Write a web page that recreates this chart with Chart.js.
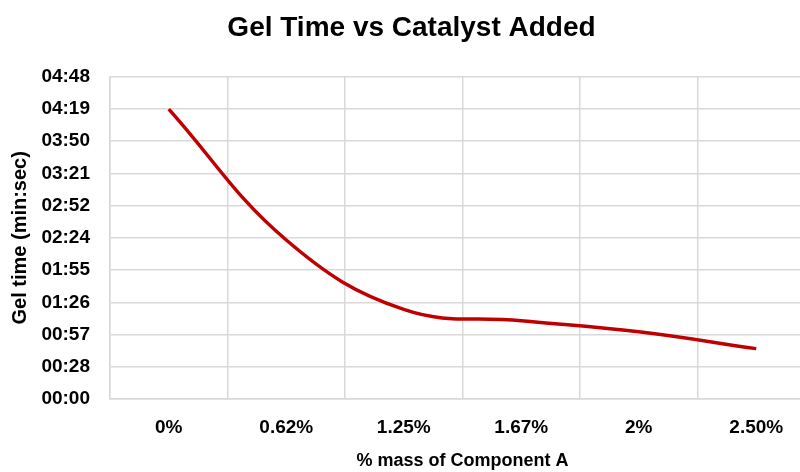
<!DOCTYPE html>
<html>
<head>
<meta charset="utf-8">
<script src="https://cdn.jsdelivr.net/npm/chart.js@4/dist/chart.umd.min.js"></script>
<style>
  html, body { margin: 0; padding: 0; background: #fff; overflow: hidden; }
  #wrap { width: 820px; height: 472px; }
</style>
</head>
<body>
<div id="wrap"><canvas id="chart"></canvas></div>
<script>
// categories on the x axis (% mass of component A)
const categories = ["0%", "0.62%", "1.25%", "1.67%", "2%", "2.50%"];
// gel time in seconds
const gelSeconds = [259, 142, 80, 70, 60, 45];
// y ticks (seconds) and their min:sec labels as the original shows them
const yTickValues = [0, 28.8, 57.6, 86.4, 115.2, 144, 172.8, 201.6, 230.4, 259.2, 288];
const yTickLabels = ["00:00", "00:28", "00:57", "01:26", "01:55", "02:24",
                     "02:52", "03:21", "03:50", "04:19", "04:48"];

const FONT = "'Liberation Sans', Arial, sans-serif";
const GRID = "#d9d9d9";

new Chart(document.getElementById("chart"), {
  type: "line",
  data: {
    labels: categories,
    datasets: [{
      data: gelSeconds,
      borderColor: "#c00000",
      borderWidth: 3.5,
      tension: 0.4,
      pointRadius: 0,
      fill: false,
    }],
  },
  options: {
    responsive: true,
    maintainAspectRatio: false,
    animation: false,
    events: [],
    layout: { padding: { left: 8, right: 5, top: 11, bottom: 0 } },
    plugins: {
      legend: { display: false },
      tooltip: { enabled: false },
      title: {
        display: true,
        text: "Gel Time vs Catalyst Added",
        color: "#000",
        font: { family: FONT, size: 28, weight: "bold" },
        padding: { top: 0, bottom: 32 },
      },
    },
    scales: {
      x: {
        type: "category",
        offset: true,
        afterFit: (scale) => { scale.height = 73; },
        grid: { color: GRID, lineWidth: 1.5, offset: true, drawTicks: false },
        border: { color: GRID, width: 1.5 },
        ticks: {
          color: "#000",
          padding: 17,
          maxRotation: 0,
          font: { family: FONT, size: 19, weight: "bold" },
        },
        title: {
          display: true,
          text: "% mass of Component A",
          color: "#000",
          font: { family: FONT, size: 18, weight: "bold" },
          padding: { top: 0, bottom: 0 },
        },
      },
      y: {
        min: 0,
        max: 288,
        afterBuildTicks: (scale) => {
          scale.ticks = yTickValues.map((v) => ({ value: v }));
        },
        afterFit: (scale) => { scale.width = 102; },
        grid: { color: GRID, lineWidth: 1.5, drawTicks: false },
        border: { color: GRID, width: 1.5 },
        ticks: {
          color: "#000",
          padding: 20,
          font: { family: FONT, size: 19, weight: "bold" },
          callback: (v, i) => yTickLabels[i],
        },
        title: {
          display: true,
          text: "Gel time (min:sec)",
          color: "#000",
          font: { family: FONT, size: 20, weight: "bold" },
          padding: { top: 0, bottom: 0 },
        },
      },
    },
  },
});
</script>
</body>
</html>
